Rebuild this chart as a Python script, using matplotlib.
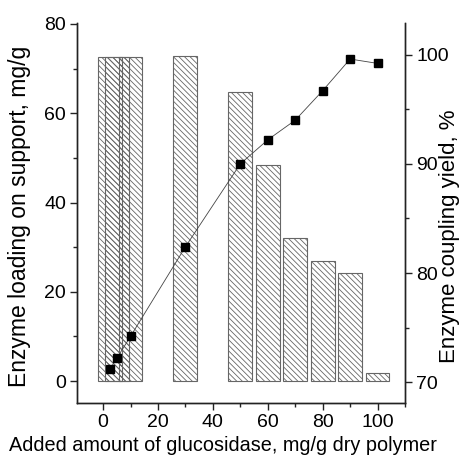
import matplotlib
matplotlib.use("Agg")
import matplotlib.pyplot as plt
from matplotlib.ticker import MultipleLocator

plt.rcParams['font.family'] = ['Liberation Sans', 'DejaVu Sans']
plt.rcParams['hatch.linewidth'] = 0.6

# data
bar_x = [2.5, 5, 10, 30, 50, 60, 70, 80, 90, 100]
loading = [72.6, 72.6, 72.6, 72.7, 64.8, 48.3, 32.1, 27.0, 24.2, 1.9]
yield_x = [2.5, 5, 10, 30, 50, 60, 70, 80, 90, 100]
coupling_yield = [71.2, 72.2, 74.2, 82.4, 90.0, 92.2, 94.0, 96.7, 99.6, 99.2]

x_label = "Added amount of glucosidase, mg/g dry polymer"
y_left_label = "Enzyme loading on support, mg/g"
y_right_label = "Enzyme coupling yield, %"

fig = plt.figure(figsize=(4.63, 4.55), dpi=100)
ax = fig.add_axes([77/463, 1-403/455, (405-77)/463, (403-23)/455])
ax2 = ax.twinx()

ax.bar(bar_x, loading, width=8.7, facecolor='none', edgecolor='#666666',
       hatch='\\\\\\\\\\\\', linewidth=0.8)
ax2.plot(yield_x, coupling_yield, color='#444444', linewidth=0.6,
         marker='s', markersize=6, markerfacecolor='black',
         markeredgecolor='black')

ax.set_xlim(-9.5, 110)
ax.set_ylim(-4.9, 80.2)
ax2.set_ylim(68.1, 102.9)

ax.xaxis.set_major_locator(MultipleLocator(20))
ax.xaxis.set_minor_locator(MultipleLocator(10))
ax.yaxis.set_major_locator(MultipleLocator(20))
ax.yaxis.set_minor_locator(MultipleLocator(10))
ax2.yaxis.set_major_locator(MultipleLocator(10))
ax2.yaxis.set_minor_locator(MultipleLocator(5))

for a in (ax, ax2):
    a.spines['top'].set_visible(False)
    for s in a.spines.values():
        s.set_linewidth(1.0)
        s.set_color('#222222')
    a.tick_params(which='major', direction='out', length=5, width=1.0,
                  labelsize=14, color='#222222', pad=3)
    a.tick_params(which='minor', direction='out', length=3, width=1.0,
                  color='#222222')

ax.set_xlabel(x_label, fontsize=14.3)
ax.set_ylabel(y_left_label, fontsize=16.5)
ax2.set_ylabel(y_right_label, fontsize=16, rotation=90)
ax.xaxis.set_label_coords(0.445, -0.088)
ax.yaxis.set_label_coords(-0.14, 0.49)
ax2.yaxis.set_label_coords(1.105, 0.44)

fig.savefig("out.png", dpi=100)
